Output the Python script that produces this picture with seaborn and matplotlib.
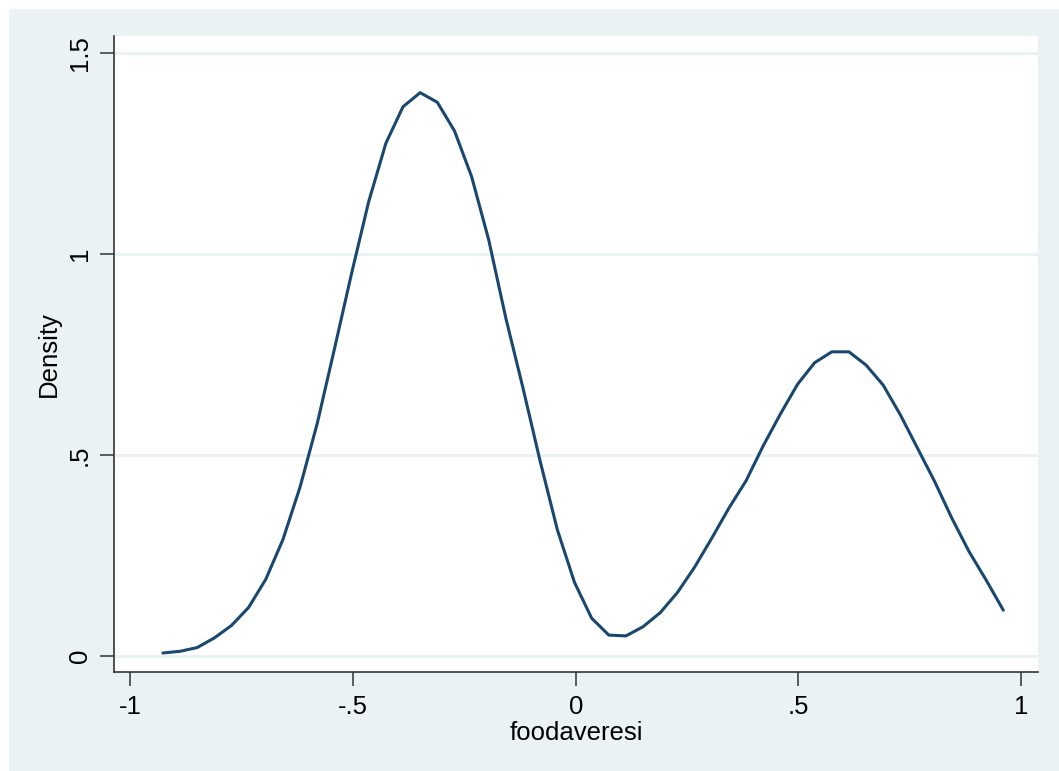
import matplotlib
matplotlib.use("Agg")
import matplotlib.pyplot as plt
from matplotlib.patches import Rectangle
import numpy as np
import pandas as pd
import seaborn as sns

# kdensity estimate of foodaveresi, 50 evaluation points
x_min = -0.927
x_max = 0.960
density = [0.0075, 0.0117, 0.021, 0.045, 0.076, 0.121, 0.191, 0.290, 0.421, 0.579,
           0.764, 0.952, 1.131, 1.276, 1.367, 1.402, 1.378, 1.307, 1.193, 1.035,
           0.840, 0.666, 0.484, 0.314, 0.183, 0.094, 0.052, 0.050, 0.073, 0.108,
           0.158, 0.221, 0.293, 0.368, 0.436, 0.523, 0.602, 0.676, 0.730, 0.757,
           0.757, 0.724, 0.674, 0.600, 0.517, 0.434, 0.343, 0.260, 0.189, 0.114]
xticks = [-1, -0.5, 0, 0.5, 1]
xtick_labels = ['-1', '-.5', '0', '.5', '1']
yticks = [0, 0.5, 1, 1.5]
ytick_labels = ['0', '.5', '1', '1.5']

bg = '#eaf2f3'
navy = '#1a476f'

sns.set_style('white')
plt.rcParams['font.family'] = ['Liberation Sans', 'DejaVu Sans']

df = pd.DataFrame({'foodaveresi': np.linspace(x_min, x_max, len(density)),
                   'Density': density})

fig = plt.figure(figsize=(10.59, 7.71), dpi=100)
fig.patch.set_facecolor('white')
# stata outer region (leaves a thin white rim top/left)
fig.patches.append(Rectangle((9 / 1059, -0.01), 1.02, 1.01 - 9 / 771, transform=fig.transFigure,
                             facecolor=bg, edgecolor='none', zorder=-1))

ax = fig.add_axes([0.1074, 0.128, 0.9805 - 0.1074, 0.9533 - 0.128])
ax.set_facecolor('white')

sns.lineplot(data=df, x='foodaveresi', y='Density', color=navy, linewidth=2.2, ax=ax)

ax.set_xlim(-1.0374, 1.0387)
ax.set_ylim(-0.0406, 1.543)
ax.set_xticks(xticks)
ax.set_xticklabels(xtick_labels)
ax.set_yticks(yticks)
ax.set_yticklabels(ytick_labels, rotation=90, va='center')

for y in yticks:
    ax.axhline(y, color=bg, linewidth=2.2, zorder=0)

for s in ['top', 'right']:
    ax.spines[s].set_visible(False)
for s in ['left', 'bottom']:
    ax.spines[s].set_color('#333333')
    ax.spines[s].set_linewidth(1.2)

ax.tick_params(axis='both', which='major', direction='out', length=10, width=1.1,
               color='#333333', labelsize=18.5, labelcolor='black', pad=6)
ax.tick_params(axis='both', bottom=True, left=True)
ax.set_xlabel('foodaveresi', fontsize=18.5, labelpad=2, color='black')
ax.set_ylabel('Density', fontsize=18.5, labelpad=5, color='black')

fig.savefig('out.png', dpi=100, facecolor=fig.get_facecolor())
